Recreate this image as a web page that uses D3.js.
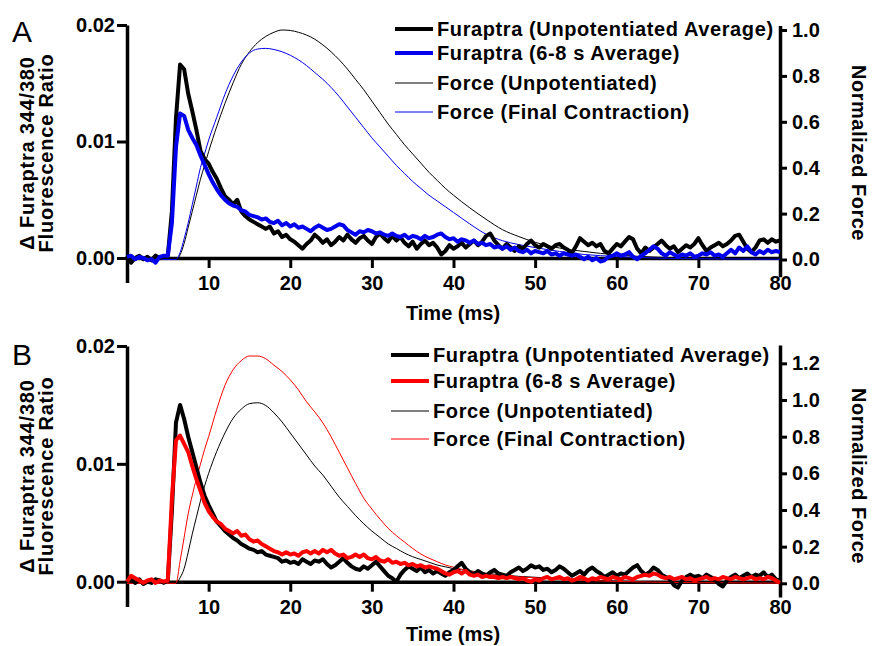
<!DOCTYPE html>
<html>
<head>
<meta charset="utf-8">
<script src="https://cdn.jsdelivr.net/npm/d3@7"></script>
<style>
  body { margin: 0; background: #fff; }
  text { font-family: "Liberation Sans", Arial, sans-serif; }
</style>
</head>
<body>
<svg width="872" height="646"></svg>
<script>
// sampling times of the furaptra traces (ms)
var timeMs = [
  0,0.5,1,1.5,2,2.5,3,3.5,4,4.5,5,5.5,6,6.5,7,7.5,8,8.5,9,9.5,
  10,10.5,11,11.5,12,12.5,13,13.5,14,14.5,15,15.5,16,16.5,17,17.5,18,18.5,19,19.5,
  20,20.5,21,21.5,22,22.5,23,23.5,24,24.5,25,25.5,26,26.5,27,27.5,28,28.5,29,29.5,
  30,30.5,31,31.5,32,32.5,33,33.5,34,34.5,35,35.5,36,36.5,37,37.5,38,38.5,39,39.5,
  40,40.5,41,41.5,42,42.5,43,43.5,44,44.5,45,45.5,46,46.5,47,47.5,48,48.5,49,49.5,
  50,50.5,51,51.5,52,52.5,53,53.5,54,54.5,55,55.5,56,56.5,57,57.5,58,58.5,59,59.5,
  60,60.5,61,61.5,62,62.5,63,63.5,64,64.5,65,65.5,66,66.5,67,67.5,68,68.5,69,69.5,
  70,70.5,71,71.5,72,72.5,73,73.5,74,74.5,75,75.5,76,76.5,77,77.5,78,78.5,79,79.5,
  80
]

// Panel A furaptra, unpotentiated average
var furaUnpotA = [
  0.0002,-0.0004,0.0000,0.0002,-0.0001,0.0001,-0.0002,0.0002,0.0000,0.0001,0.0002,0.0040,0.0120,0.0166,0.0162,0.0141,0.0126,0.0110,0.0092,0.0085,
  0.0081,0.0074,0.0068,0.0060,0.0053,0.0050,0.0046,0.0050,0.0040,0.0036,0.0033,0.0031,0.0029,0.0027,0.0025,0.0027,0.0021,0.0023,0.0018,0.0020,
  0.0016,0.0014,0.0011,0.0008,0.0012,0.0015,0.0020,0.0017,0.0013,0.0016,0.0011,0.0014,0.0018,0.0015,0.0020,0.0016,0.0013,0.0017,0.0019,0.0015,
  0.0012,0.0018,0.0021,0.0017,0.0014,0.0019,0.0015,0.0018,0.0013,0.0010,0.0014,0.0008,0.0012,0.0015,0.0011,0.0013,0.0009,0.0003,0.0006,0.0011,
  0.0008,0.0010,0.0013,0.0009,0.0012,0.0015,0.0011,0.0014,0.0019,0.0021,0.0015,0.0011,0.0008,0.0012,0.0009,0.0006,0.0010,0.0008,0.0012,0.0015,
  0.0011,0.0009,0.0012,0.0010,0.0008,0.0011,0.0012,0.0009,0.0007,0.0004,0.0010,0.0017,0.0014,0.0011,0.0013,0.0010,0.0012,0.0006,0.0004,0.0008,
  0.0012,0.0010,0.0014,0.0018,0.0016,0.0008,0.0004,0.0009,0.0006,0.0009,0.0012,0.0015,0.0011,0.0008,0.0010,0.0005,0.0008,0.0011,0.0009,0.0012,
  0.0017,0.0011,0.0006,0.0009,0.0011,0.0013,0.0010,0.0012,0.0015,0.0019,0.0020,0.0014,0.0008,0.0005,0.0009,0.0015,0.0016,0.0013,0.0016,0.0014,
  0.0015
]

// Panel A furaptra, 6-8 s average
var furaPotA = [
  0.0001,0.0002,-0.0001,0.0001,0.0000,-0.0002,-0.0001,-0.0004,0.0001,0.0002,0.0002,0.0030,0.0095,0.0124,0.0122,0.0110,0.0103,0.0097,0.0088,0.0080,
  0.0072,0.0065,0.0059,0.0054,0.0050,0.0047,0.0045,0.0044,0.0041,0.0040,0.0037,0.0036,0.0035,0.0033,0.0034,0.0031,0.0030,0.0032,0.0028,0.0030,
  0.0027,0.0029,0.0026,0.0027,0.0025,0.0023,0.0026,0.0028,0.0026,0.0024,0.0025,0.0027,0.0029,0.0028,0.0024,0.0022,0.0020,0.0023,0.0022,0.0024,
  0.0023,0.0021,0.0022,0.0020,0.0019,0.0021,0.0019,0.0018,0.0020,0.0017,0.0019,0.0018,0.0016,0.0019,0.0017,0.0018,0.0020,0.0021,0.0018,0.0016,
  0.0017,0.0014,0.0016,0.0015,0.0013,0.0015,0.0012,0.0013,0.0011,0.0012,0.0009,0.0010,0.0008,0.0010,0.0007,0.0009,0.0006,0.0005,0.0007,0.0004,
  0.0006,0.0005,0.0004,0.0006,0.0003,0.0004,0.0002,0.0004,0.0003,0.0002,0.0003,0.0001,-0.0001,0.0001,-0.0002,0.0000,-0.0003,-0.0002,0.0001,0.0002,
  0.0004,0.0002,0.0003,0.0005,0.0001,-0.0001,0.0002,0.0004,0.0007,0.0010,0.0008,0.0004,0.0002,0.0005,0.0003,0.0001,0.0003,0.0002,0.0004,0.0001,
  0.0002,0.0004,0.0003,0.0005,0.0002,0.0003,0.0001,0.0004,0.0007,0.0004,0.0009,0.0006,0.0010,0.0005,0.0003,0.0006,0.0004,0.0007,0.0005,0.0006,
  0.0005
]

// Panel B furaptra, unpotentiated average
var furaUnpotB = [
  0.0001,0.0003,-0.0001,0.0002,-0.0002,0.0000,-0.0001,0.0002,0.0001,-0.0001,0.0001,0.0060,0.0135,0.0150,0.0138,0.0123,0.0110,0.0097,0.0084,0.0073,
  0.0065,0.0058,0.0051,0.0047,0.0043,0.0040,0.0037,0.0035,0.0032,0.0030,0.0028,0.0027,0.0025,0.0026,0.0023,0.0022,0.0021,0.0020,0.0017,0.0018,
  0.0016,0.0017,0.0015,0.0019,0.0017,0.0015,0.0018,0.0017,0.0019,0.0015,0.0012,0.0014,0.0017,0.0020,0.0016,0.0013,0.0011,0.0010,0.0013,0.0011,
  0.0014,0.0017,0.0013,0.0009,0.0005,0.0003,0.0000,0.0006,0.0010,0.0013,0.0011,0.0009,0.0012,0.0008,0.0010,0.0007,0.0009,0.0007,0.0005,0.0008,
  0.0010,0.0013,0.0016,0.0011,0.0008,0.0006,0.0009,0.0007,0.0005,0.0008,0.0010,0.0007,0.0006,0.0005,0.0008,0.0010,0.0012,0.0009,0.0011,0.0014,
  0.0012,0.0013,0.0010,0.0011,0.0008,0.0010,0.0013,0.0011,0.0008,0.0005,0.0007,0.0009,0.0006,0.0010,0.0012,0.0009,0.0007,0.0004,0.0006,0.0008,
  0.0005,0.0007,0.0006,0.0009,0.0012,0.0014,0.0009,0.0006,0.0008,0.0012,0.0010,0.0006,0.0004,0.0002,-0.0003,-0.0005,0.0001,0.0004,0.0006,0.0004,
  0.0005,0.0003,0.0006,0.0004,0.0002,-0.0002,-0.0004,0.0001,0.0004,0.0006,0.0003,0.0005,0.0007,0.0004,0.0006,0.0005,0.0008,0.0004,0.0006,0.0002,
  0.0001
]

// Panel B furaptra, 6-8 s average
var furaPotB = [
  0.0000,0.0005,0.0003,0.0001,-0.0001,0.0001,0.0002,-0.0001,0.0001,0.0000,0.0001,0.0070,0.0120,0.0124,0.0117,0.0110,0.0098,0.0087,0.0077,0.0067,
  0.0060,0.0055,0.0051,0.0049,0.0045,0.0043,0.0041,0.0043,0.0039,0.0040,0.0036,0.0034,0.0035,0.0032,0.0030,0.0028,0.0026,0.0025,0.0023,0.0025,
  0.0023,0.0024,0.0022,0.0025,0.0026,0.0024,0.0026,0.0024,0.0027,0.0025,0.0027,0.0024,0.0022,0.0023,0.0020,0.0021,0.0023,0.0021,0.0023,0.0020,
  0.0019,0.0021,0.0018,0.0017,0.0019,0.0016,0.0017,0.0015,0.0016,0.0014,0.0015,0.0013,0.0014,0.0012,0.0013,0.0012,0.0011,0.0009,0.0007,0.0006,
  0.0008,0.0009,0.0007,0.0009,0.0006,0.0005,0.0006,0.0004,0.0005,0.0004,0.0004,0.0003,0.0004,0.0003,0.0004,0.0003,0.0002,0.0003,0.0001,0.0000,
  0.0002,0.0001,0.0003,0.0004,0.0002,0.0003,0.0004,0.0002,0.0003,0.0001,0.0002,0.0004,0.0003,0.0001,0.0003,0.0002,0.0004,0.0003,0.0002,0.0004,
  0.0003,0.0002,0.0004,0.0003,0.0002,0.0004,0.0005,0.0006,0.0005,0.0007,0.0006,0.0004,0.0003,0.0004,0.0002,0.0003,0.0004,0.0002,0.0003,0.0001,
  0.0002,0.0003,0.0004,0.0002,0.0003,0.0002,0.0004,0.0003,0.0002,0.0004,0.0003,0.0002,0.0003,0.0004,0.0002,0.0003,0.0002,0.0004,0.0003,0.0001,
  -0.0001
]

// sampling times of the force traces (ms)
var forceTimeMs = [0,6,6.5,7,7.5,8,8.5,9,9.5,10,11,12,13,14,15,16,17,18,19,20,21,22,23,24,25,26,27,28,29,30,
  31,32,33,34,35,36,37,38,39,40,42,44,46,48,50,53,56,60,65,70,75,80]

var forceUnpotA = [0,0,0.02,0.07,0.14,0.21,0.28,0.35,0.41,0.47,0.58,0.68,0.77,0.85,0.905,0.945,0.972,0.99,1.0,0.998,
  0.99,0.978,0.96,0.935,0.905,0.87,0.83,0.785,0.74,0.69,0.64,0.59,0.545,0.5,0.46,0.42,0.38,0.345,0.31,0.28,
  0.225,0.175,0.13,0.1,0.075,0.05,0.035,0.02,0.01,0.005,0.002,0.001]
var forceFinalA = [0,0,0.03,0.09,0.16,0.24,0.32,0.40,0.46,0.52,0.62,0.72,0.80,0.86,0.90,0.917,0.92,0.915,0.905,0.89,
  0.87,0.845,0.815,0.785,0.75,0.71,0.665,0.62,0.575,0.53,0.49,0.45,0.41,0.375,0.34,0.31,0.28,0.255,0.23,0.205,
  0.155,0.11,0.082,0.065,0.052,0.035,0.022,0.013,0.006,0.003,0.002,0.001]
var forceUnpotB = [0,0,0.03,0.08,0.17,0.27,0.36,0.45,0.53,0.60,0.72,0.82,0.90,0.95,0.98,0.985,0.97,0.93,0.88,0.82,
  0.76,0.70,0.64,0.59,0.53,0.47,0.42,0.37,0.325,0.285,0.25,0.215,0.19,0.165,0.145,0.13,0.115,0.10,0.09,0.08,
  0.068,0.055,0.045,0.038,0.033,0.025,0.018,0.012,0.007,0.004,0.002,0.001]
var forceFinalB = [0,0,0.12,0.25,0.38,0.48,0.57,0.65,0.73,0.80,0.95,1.08,1.165,1.215,1.24,1.24,1.225,1.19,1.155,1.11,
  1.055,0.99,0.935,0.875,0.80,0.715,0.63,0.545,0.465,0.405,0.35,0.30,0.26,0.225,0.19,0.16,0.137,0.118,0.10,0.088,
  0.066,0.05,0.04,0.034,0.03,0.022,0.016,0.01,0.006,0.003,0.002,0.001]

var xTicks = [10, 20, 30, 40, 50, 60, 70, 80]
var leftTicks = [0, 0.01, 0.02]
var rightTicksA = [0, 0.2, 0.4, 0.6, 0.8, 1.0]
var rightTicksB = [0, 0.2, 0.4, 0.6, 0.8, 1.0, 1.2]
var legendLabels = ["Furaptra (Unpotentiated Average)", "Furaptra (6-8 s Average)", "Force (Unpotentiated)", "Force (Final Contraction)"]

function zip(t, v) {
  return t.map(function(d, i) { return [d, v[i]] })
}

function styleAxis(g) {
  g.attr("font-family", null).attr("font-size", null)
  g.select(".domain").attr("stroke", "#000").attr("stroke-width", 3.5)
  g.selectAll(".tick line").attr("stroke", "#000").attr("stroke-width", 3)
  g.selectAll(".tick text").attr("fill", "#000")
    .style("font-size", "20px").style("font-weight", "bold")
    .style("font-family", "'Liberation Sans', Arial, sans-serif")
}

function drawPanel(svg, p) {
  var g = svg.append("g")

  var x = d3.scaleLinear().domain([0, 80]).range([127, 780])
  var yL = d3.scaleLinear().domain([0, 0.02]).range([p.yZero, p.yTop])
  var yR = d3.scaleLinear().domain([0, 1]).range([p.rZero, p.rOne])

  // axes
  var yLAxisScale = yL.copy().domain([-0.0021, 0.02]).range([yL(-0.0021), yL(0.02)])
  var leftAxis = d3.axisLeft(yLAxisScale).tickValues(leftTicks).tickFormat(d3.format(".2f"))
    .tickSize(10).tickSizeOuter(0).tickPadding(2)
  g.append("g").attr("transform", "translate(127,0)").call(leftAxis).call(styleAxis)

  var yRAxisScale = yR.copy().domain([-0.075, p.rMax]).range([yR(-0.075), yR(p.rMax)])
  var rightAxis = d3.axisRight(yRAxisScale).tickValues(p.rightTicks).tickFormat(d3.format(".1f"))
    .tickSize(7).tickSizeOuter(0).tickPadding(5)
  g.append("g").attr("transform", "translate(780,0)").call(rightAxis).call(styleAxis)

  var xAxis = d3.axisBottom(x).tickValues(xTicks).tickFormat(d3.format("d"))
    .tickSize(10).tickSizeOuter(0).tickPadding(8)
  g.append("g").attr("transform", "translate(0," + yL(0) + ")").call(xAxis).call(styleAxis)

  // force traces (thin)
  var forceLine = d3.line().x(d => x(d[0])).y(d => yR(d[1])).curve(d3.curveMonotoneX)
  g.append("path").datum(zip(forceTimeMs, p.forceUnpot))
    .attr("d", forceLine).attr("fill", "none").attr("stroke", "#000").attr("stroke-width", 1)
  g.append("path").datum(zip(forceTimeMs, p.forceFinal))
    .attr("d", forceLine).attr("fill", "none").attr("stroke", p.color).attr("stroke-width", 1)

  // furaptra traces (thick)
  var furaLine = d3.line().x(d => x(d[0])).y(d => yL(d[1]))
  g.append("path").datum(zip(timeMs, p.furaUnpot))
    .attr("d", furaLine).attr("fill", "none").attr("stroke", "#000")
    .attr("stroke-width", 4).attr("stroke-linejoin", "round")
  g.append("path").datum(zip(timeMs, p.furaPot))
    .attr("d", furaLine).attr("fill", "none").attr("stroke", p.color)
    .attr("stroke-width", 4).attr("stroke-linejoin", "round")

  // legend
  var legendColors = ["#000", p.color, "#000", p.color]
  var legendWidths = [4, 4, 1, 1]
  legendLabels.forEach(function(label, i) {
    var by = p.legendBaselines[i]
    g.append("line").attr("x1", p.legendX - 42).attr("x2", p.legendX - 4)
      .attr("y1", by - 7).attr("y2", by - 7)
      .attr("stroke", legendColors[i]).attr("stroke-width", legendWidths[i])
    g.append("text").attr("x", p.legendX).attr("y", by).text(label)
      .style("font-size", "20px").style("font-weight", "bold").style("letter-spacing", "0.6px")
  })

  // axis titles
  g.append("text").attr("x", 453).attr("y", p.timeLabelY).attr("text-anchor", "middle")
    .style("font-size", "20px").style("font-weight", "bold").text("Time (ms)")

  var ly = g.append("g").attr("transform", "translate(0," + p.titleY + ") rotate(-90)")
  ly.append("text").attr("x", 0).attr("y", 34).attr("text-anchor", "middle")
    .style("font-size", "20px").style("font-weight", "bold").style("letter-spacing", "0.8px")
    .text("\u0394 Furaptra 344/380")
  ly.append("text").attr("x", 0).attr("y", 53).attr("text-anchor", "middle")
    .style("font-size", "20px").style("font-weight", "bold").style("letter-spacing", "0.8px")
    .text("Fluorescence Ratio")

  g.append("text").attr("transform", "translate(852," + p.titleY + ") rotate(90)")
    .attr("text-anchor", "middle")
    .style("font-size", "20px").style("font-weight", "bold").style("letter-spacing", "0.5px")
    .text("Normalized Force")

  // panel letter
  g.append("text").attr("x", 12).attr("y", p.letterY).style("font-size", "30px").text(p.letter)
}

function main() {
  var svg = d3.select("svg")

  drawPanel(svg, {
    letter: "A", letterY: 42,
    yZero: 258, yTop: 25,
    rZero: 259.5, rOne: 30, rMax: 1.02, rightTicks: rightTicksA,
    color: "#0000ee",
    furaUnpot: furaUnpotA, furaPot: furaPotA,
    forceUnpot: forceUnpotA, forceFinal: forceFinalA,
    legendX: 437, legendBaselines: [36, 60, 90, 119],
    timeLabelY: 320, titleY: 153
  })

  drawPanel(svg, {
    letter: "B", letterY: 365,
    yZero: 581.7, yTop: 346,
    rZero: 583.3, rOne: 400, rMax: 1.3, rightTicks: rightTicksB,
    color: "#ff0000",
    furaUnpot: furaUnpotB, furaPot: furaPotB,
    forceUnpot: forceUnpotB, forceFinal: forceFinalB,
    legendX: 433, legendBaselines: [362, 388, 418, 446],
    timeLabelY: 641, titleY: 476
  })
}

window.onload = function() {
  main()
}
</script>
</body>
</html>
